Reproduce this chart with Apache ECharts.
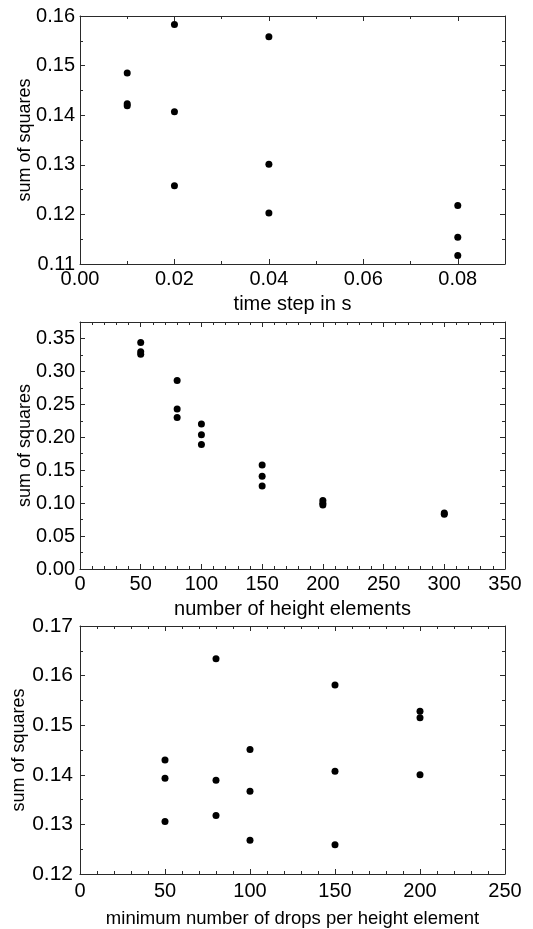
<!DOCTYPE html>
<html>
<head>
<meta charset="utf-8">
<script src="https://cdn.jsdelivr.net/npm/echarts@6/dist/echarts.min.js"></script>
<style>
  html, body { margin: 0; padding: 0; background: #fff; }
  #chart { width: 533px; height: 929px; }
</style>
</head>
<body>
<div id="chart"></div>
<script>
// panel 1: time step
const timeStep = [0.01, 0.01, 0.01, 0.02, 0.02, 0.02, 0.04, 0.04, 0.04, 0.08, 0.08, 0.08];
const sumSqTime = [0.1485, 0.1423, 0.1419, 0.1583, 0.1407, 0.1258, 0.1558, 0.1301, 0.1203, 0.1218, 0.1154, 0.1117];
// panel 2: number of height elements
const heightElems = [50, 50, 50, 80, 80, 80, 100, 100, 100, 150, 150, 150, 200, 200, 200, 300, 300];
const sumSqHeight = [0.344, 0.330, 0.326, 0.286, 0.243, 0.230, 0.220, 0.204, 0.189, 0.158, 0.141, 0.126, 0.104, 0.100, 0.097, 0.085, 0.083];
// panel 3: minimum drops per height element
const minDrops = [50, 50, 50, 80, 80, 80, 100, 100, 100, 150, 150, 150, 200, 200, 200];
const sumSqDrops = [0.1430, 0.1393, 0.1306, 0.1634, 0.1389, 0.1318, 0.1451, 0.1367, 0.1268, 0.1581, 0.1407, 0.1259, 0.1528, 0.1515, 0.1400];

// axis ranges [min, max] and steps [major, minor]
const xRange1 = [0, 0.09], xStep1 = [0.02, 0.01];
const yRange1 = [0.11, 0.16], yStep1 = [0.01, 0.005];
const xRange2 = [0, 350], xStep2 = [50, 10];
const yRange2 = [0, 0.375], yStep2 = [0.05, 0.025];
const xRange3 = [0, 250], xStep3 = [50, 10];
const yRange3 = [0.12, 0.17], yStep3 = [0.01, 0.005];

const axisColor = '#2a2a2a';
const font = 'Liberation Sans, Arial, sans-serif';

const grids = [];
const xAxes = [];
const yAxes = [];
const series = [];

// one axis; major ones carry the line, minor ones only short ticks
function axis(gridIndex, pos, range, step, major) {
    return {
        type: 'value',
        gridIndex: gridIndex,
        position: pos,
        min: range[0],
        max: range[1],
        interval: step,
        axisLine: { show: major, onZero: false, lineStyle: { color: axisColor, width: 1 } },
        axisTick: { show: true, inside: true, length: major ? 5 : 3, lineStyle: { color: axisColor, width: 1 } },
        axisLabel: { show: false },
        splitLine: { show: false }
    };
}

function isMultiple(v, step) {
    const r = v / step;
    return Math.abs(r - Math.round(r)) < 1e-6;
}

function addPanel(p) {
    const g = grids.length;
    grids.push({ left: 80, right: 28, top: p.top, height: p.height });

    const xi = xAxes.length;
    const yi = yAxes.length;

    // bottom x with labels and name
    const xb = axis(g, 'bottom', p.xRange, p.xStep[0], true);
    xb.axisLabel = {
        show: true,
        margin: p.xMargin,
        fontSize: p.fsX,
        fontFamily: font,
        color: '#000',
        showMaxLabel: isMultiple(p.xRange[1], p.xStep[0]),
        formatter: (v) => v.toFixed(p.xDec)
    };
    xb.name = p.xName;
    xb.nameLocation = 'middle';
    xb.nameGap = p.xGap;
    xb.nameMoveOverlap = false;
    xb.nameTextStyle = { fontSize: p.fsName, fontFamily: font, color: '#000' };
    xAxes.push(xb);
    xAxes.push(axis(g, 'top', p.xRange, p.xStep[0], true));
    xAxes.push(axis(g, 'bottom', p.xRange, p.xStep[1], false));
    xAxes.push(axis(g, 'top', p.xRange, p.xStep[1], false));

    // left y with labels and name
    const yl = axis(g, 'left', p.yRange, p.yStep[0], true);
    yl.axisLabel = {
        show: true,
        margin: p.yMargin,
        fontSize: p.fsY,
        fontFamily: font,
        color: '#000',
        showMaxLabel: isMultiple(p.yRange[1], p.yStep[0]),
        formatter: (v) => v.toFixed(p.yDec)
    };
    yl.name = p.yName;
    yl.nameLocation = 'middle';
    yl.nameGap = p.yGap;
    yl.nameMoveOverlap = false;
    yl.nameTextStyle = { fontSize: 18, fontFamily: font, color: '#000' };
    yAxes.push(yl);
    yAxes.push(axis(g, 'right', p.yRange, p.yStep[0], true));
    yAxes.push(axis(g, 'left', p.yRange, p.yStep[1], false));
    yAxes.push(axis(g, 'right', p.yRange, p.yStep[1], false));

    series.push({
        type: 'scatter',
        xAxisIndex: xi,
        yAxisIndex: yi,
        symbol: 'circle',
        symbolSize: 7,
        itemStyle: { color: '#000', opacity: 1 },
        data: p.xs.map((x, i) => [x, p.ys[i]])
    });
}

addPanel({
    top: 16, height: 248,
    xRange: xRange1, xStep: xStep1, yRange: yRange1, yStep: yStep1,
    xDec: 2, yDec: 2, fsX: 20, fsY: 20, fsName: 20,
    xMargin: 5, yMargin: 5,
    xName: 'time step in s', yName: 'sum of squares',
    xGap: 30, yGap: 46,
    xs: timeStep, ys: sumSqTime
});
addPanel({
    top: 322, height: 247,
    xRange: xRange2, xStep: xStep2, yRange: yRange2, yStep: yStep2,
    xDec: 0, yDec: 2, fsX: 20, fsY: 20, fsName: 20,
    xMargin: 5, yMargin: 5,
    xName: 'number of height elements', yName: 'sum of squares',
    xGap: 30, yGap: 46,
    xs: heightElems, ys: sumSqHeight
});
addPanel({
    top: 626, height: 249,
    xRange: xRange3, xStep: xStep3, yRange: yRange3, yStep: yStep3,
    xDec: 0, yDec: 2, fsX: 20, fsY: 21, fsName: 18.5,
    xMargin: 7, yMargin: 7,
    xName: 'minimum number of drops per height element', yName: 'sum of squares',
    xGap: 35, yGap: 52,
    xs: minDrops, ys: sumSqDrops
});

const myChart = echarts.init(document.getElementById('chart'));
myChart.setOption({
    animation: false,
    textStyle: { fontFamily: font },
    grid: grids,
    xAxis: xAxes,
    yAxis: yAxes,
    series: series
});
</script>
</body>
</html>
